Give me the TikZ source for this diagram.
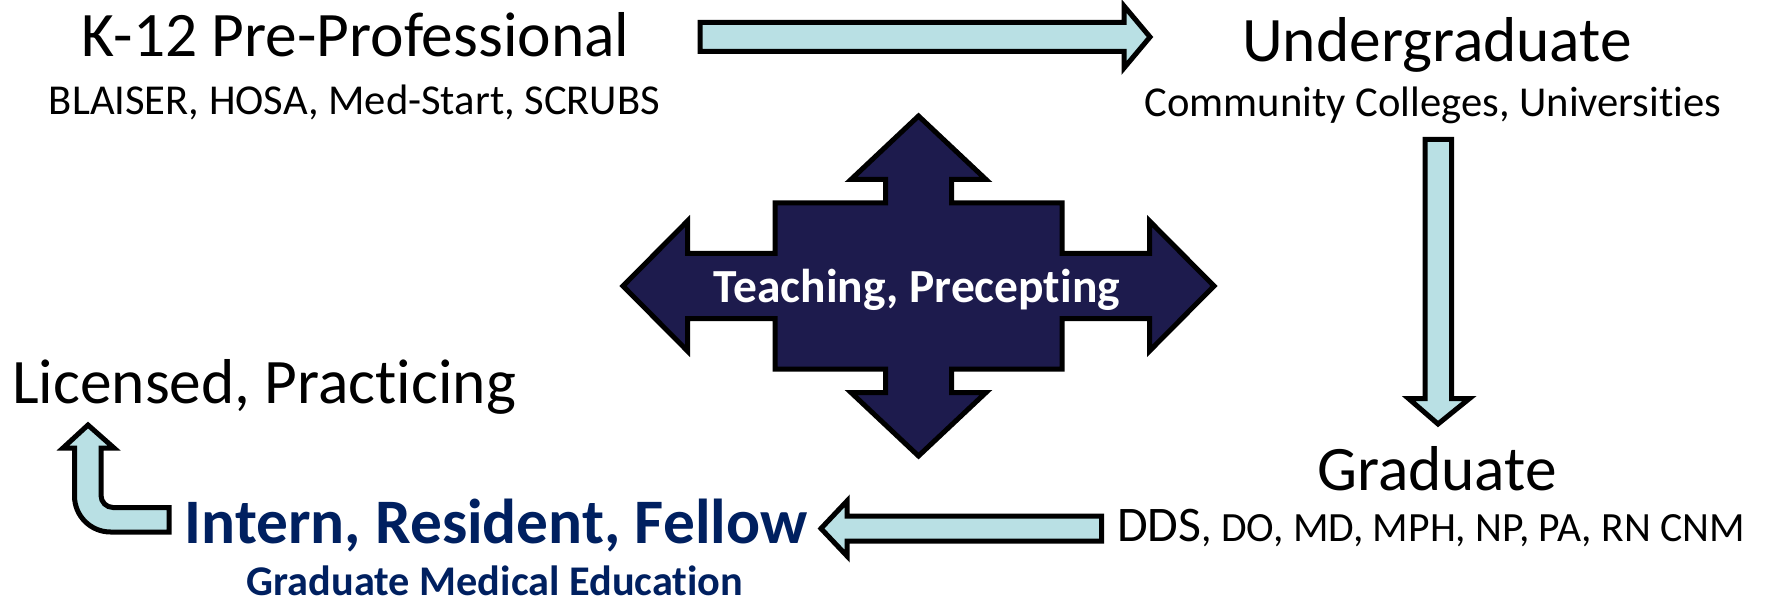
\documentclass[tikz,border=0pt]{standalone}
\usepackage{fontspec}
\setmainfont{Carlito}[Ligatures={NoCommon,NoContextual}]
\definecolor{arrowblue}{RGB}{185,224,228}
\definecolor{crossnavy}{RGB}{29,27,77}
\definecolor{darkbluetext}{RGB}{0,32,96}
\tikzset{
  title/.style={font=\fontsize{63.4}{70}\selectfont, anchor=base, inner sep=0pt},
  subtitle/.style={font=\fontsize{42.6}{48}\selectfont, anchor=base, inner sep=0pt},
  blockarrow/.style={draw=black, line width=5pt, fill=arrowblue, line join=miter, miter limit=10},
  crossarrow/.style={draw=black, line width=5pt, fill=crossnavy, line join=miter, miter limit=10}
}
\begin{document}
\begin{tikzpicture}[x=1pt, y=-1pt]
\useasboundingbox (0,0) rectangle (1765,604);

% texts
\node[title] (k12) at (355.5,57) {K-12 Pre-Professional};
\node[subtitle] (k12sub) at (354.5,115) {BLAISER, HOSA, Med-Start, SCRUBS};
\node[title] (ug) at (1437,62) {Undergraduate};
\node[subtitle] (ugsub) at (1433,117) {Community Colleges, Universities};
\node[title] (grad) at (1437,490) {Graduate};
\node[anchor=base, inner sep=0pt] (gradsub) at (1431,541)
  {{\fontsize{49.8}{56}\selectfont DDS}{\fontsize{41.6}{48}\selectfont , DO, MD, MPH, NP, PA, RN CNM}};
\node[title, anchor=base west] (lic) at (12,403) {Licensed, Practicing};
\node[title, font=\fontsize{63.4}{70}\selectfont\bfseries, text=darkbluetext] (irf) at (496,543) {Intern, Resident, Fellow};
\node[subtitle, font=\fontsize{42.3}{48}\selectfont\bfseries, text=darkbluetext] (gme) at (495,595) {Graduate Medical Education};

% top arrow (K-12 -> Undergraduate)
\draw[blockarrow] (700,22.5) -- (1124,22.5) -- (1124,6) -- (1150,37) -- (1124,68)
  -- (1124,51.5) -- (700,51.5) -- cycle;

% down arrow (Undergraduate -> Graduate)
\draw[blockarrow] (1425,139.5) -- (1451.5,139.5) -- (1451.5,398.5) -- (1469.5,398.5)
  -- (1438,424) -- (1408.5,398.5) -- (1425,398.5) -- cycle;

% bottom arrow (Graduate -> Intern)
\draw[blockarrow] (1101.5,516) -- (847,516) -- (847,501) -- (821,528.5) -- (847,556)
  -- (847,541) -- (1101.5,541) -- cycle;

% bent arrow (Intern -> Licensed)
\draw[blockarrow] (169,507.5) -- (113,507.5)
  .. controls (106.4,507.5) and (101,502.1) .. (101,495.5)
  -- (101,448) -- (114,448) -- (88,425) -- (63,448) -- (74.5,448) -- (74.5,496)
  .. controls (74.5,515.9) and (90.6,532) .. (110.5,532)
  -- (169,532) -- cycle;

% central cross
\begin{scope}[shift={(918.5,286)}]
\draw[crossarrow]
  (-295.5,0) -- (-231,-65) -- (-231,-32.5) -- (-143.5,-32.5) -- (-143.5,-83)
  -- (-33,-83) -- (-33,-106.5) -- (-67.5,-106.5) -- (0,-170) -- (67.5,-106.5)
  -- (33,-106.5) -- (33,-83) -- (143.5,-83) -- (143.5,-32.5) -- (231,-32.5)
  -- (231,-65) -- (295.5,0) -- (231,65) -- (231,32.5) -- (143.5,32.5)
  -- (143.5,83) -- (33,83) -- (33,106.5) -- (67.5,106.5) -- (0,170)
  -- (-67.5,106.5) -- (-33,106.5) -- (-33,83) -- (-143.5,83) -- (-143.5,32.5)
  -- (-231,32.5) -- (-231,65) -- cycle;
\end{scope}
\node[anchor=base, inner sep=0pt, text=white, font=\fontsize{47.5}{54}\selectfont\bfseries] (teach) at (917,302) {Teaching, Precepting};
\end{tikzpicture}
\end{document}
